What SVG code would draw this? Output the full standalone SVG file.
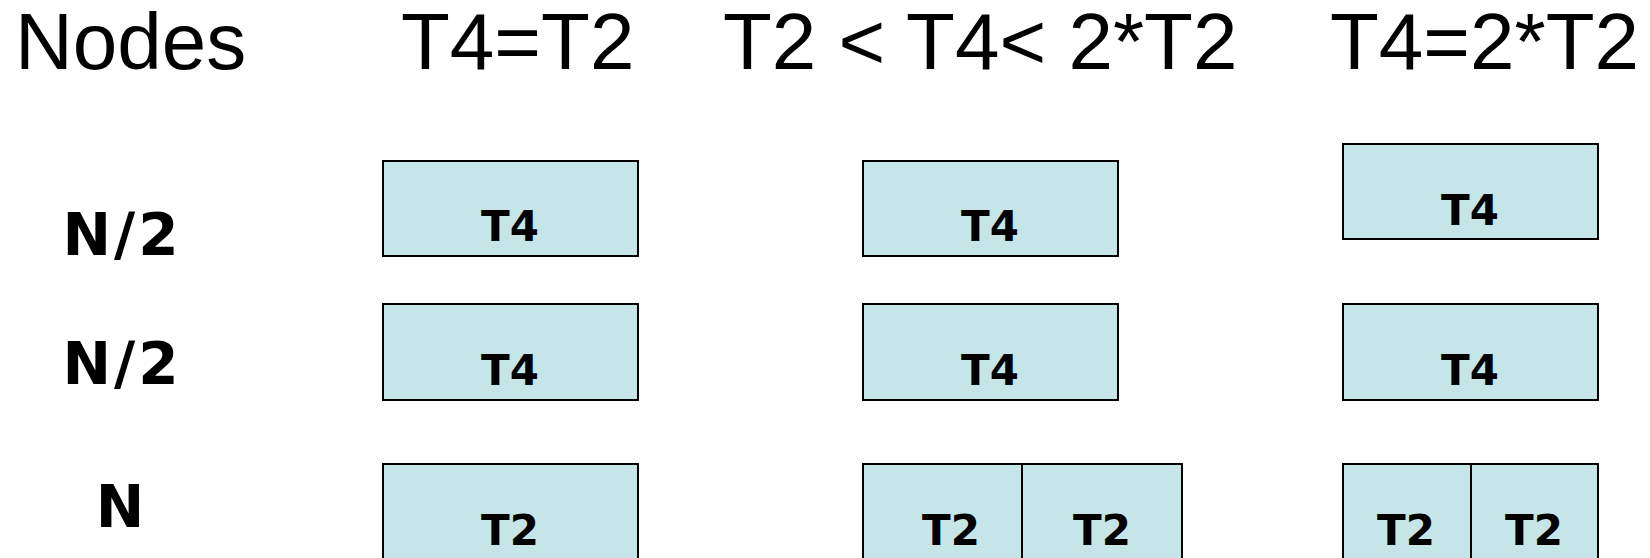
<svg xmlns="http://www.w3.org/2000/svg" width="1650" height="558" viewBox="0 0 1650 558">
<style>
.hdr{font-family:"Liberation Sans",Arial,sans-serif;font-size:80px;fill:#000}
.lbl{font-family:"DejaVu Sans",Verdana,sans-serif;font-weight:bold;font-size:58px;fill:#000;text-anchor:middle}
.box{fill:#C6E5E8;stroke:#000;stroke-width:2}
.bt{font-family:"DejaVu Sans",Verdana,sans-serif;font-weight:bold;font-size:42px;fill:#000;text-anchor:middle}
</style>
<rect width="1650" height="558" fill="#fff"/>
<g id="headers">
<text class="hdr" x="15" y="69">Nodes</text>
<text class="hdr" x="401" y="69">T4=T2</text>
<text class="hdr" x="723" y="69">T2 &lt; T4&lt; 2*T2</text>
<text class="hdr" x="1330" y="69">T4=2*T2</text>
</g>
<g id="row-labels">
<text class="lbl" x="122" y="255" letter-spacing="3">N/2</text>
<text class="lbl" x="122" y="384" letter-spacing="3">N/2</text>
<text class="lbl" x="120" y="527">N</text>
</g>
<g id="c1r1"><rect class="box" x="383" y="161" width="255" height="95"/><text class="bt" x="510" y="241">T4</text></g>
<g id="c1r2"><rect class="box" x="383" y="304" width="255" height="96"/><text class="bt" x="510" y="385">T4</text></g>
<g id="c1r3"><rect class="box" x="383" y="464" width="255" height="120"/><text class="bt" x="510" y="545">T2</text></g>
<g id="c2r1"><rect class="box" x="863" y="161" width="255" height="95"/><text class="bt" x="990" y="241">T4</text></g>
<g id="c2r2"><rect class="box" x="863" y="304" width="255" height="96"/><text class="bt" x="990" y="385">T4</text></g>
<g id="c2r3a"><rect class="box" x="863" y="464" width="176" height="120"/><text class="bt" x="951" y="545">T2</text></g>
<g id="c2r3b"><rect class="box" x="1022" y="464" width="160" height="120"/><text class="bt" x="1102" y="545">T2</text></g>
<g id="c3r1"><rect class="box" x="1343" y="144" width="255" height="95"/><text class="bt" x="1470" y="225">T4</text></g>
<g id="c3r2"><rect class="box" x="1343" y="304" width="255" height="96"/><text class="bt" x="1470" y="385">T4</text></g>
<g id="c3r3a"><rect class="box" x="1343" y="464" width="128" height="120"/><text class="bt" x="1406" y="545">T2</text></g>
<g id="c3r3b"><rect class="box" x="1471" y="464" width="127" height="120"/><text class="bt" x="1534" y="545">T2</text></g>
<g id="connectors"/>
</svg>
